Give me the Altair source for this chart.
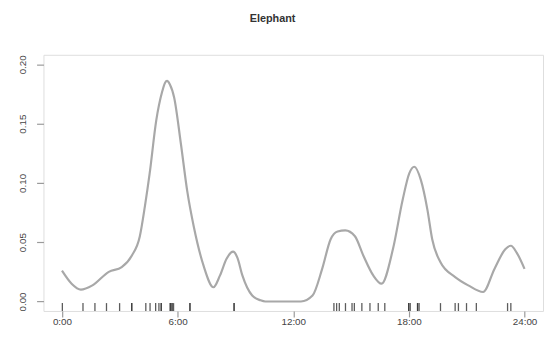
import altair as alt
import pandas as pd

# Density curve (hour of day vs density)
hours = [0, 0.5, 0.98, 1.58, 2.43, 3.1, 3.62, 4.04, 4.3, 4.55, 4.89, 5.2, 5.35,
         5.45, 5.6, 5.82, 6.17, 6.5, 6.84, 7.35, 7.86, 8.2, 8.54, 8.88, 9.1,
         9.36, 9.87, 10.3, 10.55, 12.4, 13.0, 13.5, 13.94, 14.3, 14.7, 15.2,
         15.64, 16.15, 16.58, 17.17, 17.68, 18.02, 18.28, 18.62, 18.96, 19.21,
         19.64, 20.4, 21.08, 21.85, 22.44, 23.0, 23.29, 23.6, 24.0]
density = [0.026, 0.015, 0.010, 0.0136, 0.025, 0.029, 0.0386, 0.055, 0.080,
           0.108, 0.1525, 0.177, 0.1845, 0.186, 0.183, 0.172, 0.133, 0.093,
           0.063, 0.030, 0.012, 0.022, 0.036, 0.042, 0.037, 0.022, 0.005, 0.001,
           0.0, 0.0, 0.005, 0.0275, 0.0525, 0.059, 0.060, 0.055, 0.0386, 0.022,
           0.015, 0.044, 0.086, 0.108, 0.1136, 0.1025, 0.0775, 0.0525, 0.033,
           0.0206, 0.0136, 0.008, 0.0275, 0.044, 0.047, 0.041, 0.0275]

# Rug: observation times (hours)
rug_hours = [0.02, 1.09, 1.71, 2.31, 2.99, 3.62, 3.62, 4.35, 4.57, 4.86, 5.03,
             5.15, 5.15, 5.62, 5.62, 5.71, 5.71, 5.79, 6.64, 6.64, 8.93, 8.93,
             14.11, 14.25, 14.39, 14.71, 15.05, 15.17, 15.56, 15.98, 16.41,
             16.75, 17.99, 17.99, 18.07, 18.45, 18.45, 18.53, 19.64, 20.40,
             20.57, 20.99, 21.50, 23.12, 23.29]

x_ticks = [0, 6, 12, 18, 24]
x_labels = ["0:00", "6:00", "12:00", "18:00", "24:00"]
y_ticks = [0.0, 0.05, 0.10, 0.15, 0.20]

curve = pd.DataFrame({"hour": hours, "density": density})
rug = pd.DataFrame({"hour": rug_hours})

x_label_expr = "{" + ",".join(f"'{v}':'{l}'" for v, l in zip(x_ticks, x_labels)) + "}[''+datum.value]"

xscale = alt.Scale(domain=[-0.96, 24.96], nice=False, zero=False)
yscale = alt.Scale(domain=[-0.008, 0.208], nice=False, zero=False)

FONT = "Liberation Sans"
GRAY = "#9a9a9a"

xaxis = alt.Axis(values=x_ticks, labelExpr=x_label_expr,
                 title=None, grid=False, domain=False, tickSize=6, tickColor=GRAY,
                 tickWidth=1.2, labelPadding=0, labelFontSize=10, labelFont=FONT,
                 labelColor="#444")
yaxis = alt.Axis(values=y_ticks, labelExpr="format(datum.value, '.2f')",
                 title=None, grid=False, domain=False, tickSize=7, tickColor=GRAY,
                 tickWidth=1.2, labelAngle=270, labelAlign="center",
                 labelBaseline="bottom", labelPadding=9, labelFontSize=10,
                 labelFont=FONT, labelColor="#444")

line = alt.Chart(curve).mark_line(interpolate="monotone", color="#a8a8a8",
                                  strokeWidth=2.2).encode(
    x=alt.X("hour:Q", scale=xscale, axis=xaxis),
    y=alt.Y("density:Q", scale=yscale, axis=yaxis),
)

rugs = alt.Chart(rug).mark_rule(color="#333333", strokeWidth=1.3, opacity=0.8).encode(
    x=alt.X("hour:Q", scale=xscale),
    y=alt.value(252),
    y2=alt.value(260),
)

chart = (line + rugs).properties(
    width=507, height=260,
    autosize=alt.AutoSizeParams(type="none"),
    padding={"left": 36, "top": 45, "right": 2, "bottom": 30},
    title=alt.TitleParams("Elephant", font=FONT, fontSize=11, fontWeight="bold",
                          color="#333", anchor="middle", dx=-21, offset=31),
).configure_view(stroke=GRAY, strokeWidth=1.5).configure(background="white")

chart.save("out.html", embed_options={"renderer": "svg", "actions": False})
